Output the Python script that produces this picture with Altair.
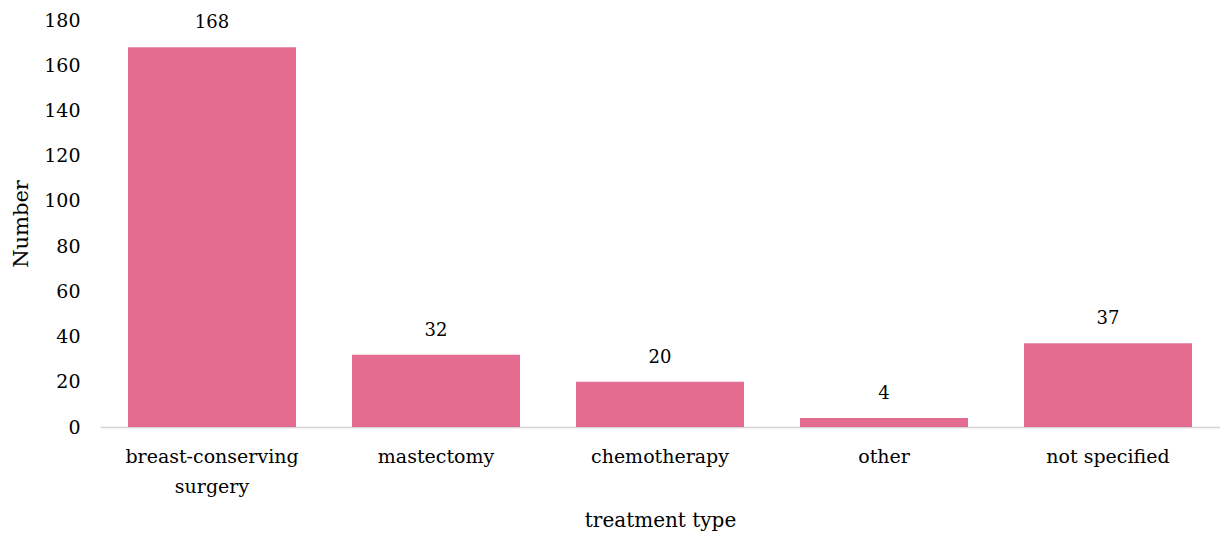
import altair as alt
import pandas as pd

# Treatment categories and patient counts
categories = ["breast-conserving surgery", "mastectomy", "chemotherapy", "other", "not specified"]
counts = [168, 32, 20, 4, 37]

df = pd.DataFrame({"treatment": categories, "count": counts})

FONT = "DejaVu Serif"
BAR_COLOR = "#E36C90"

x_enc = alt.X(
    "treatment:N",
    sort=categories,
    scale=alt.Scale(paddingInner=0.25, paddingOuter=0.125),
    axis=alt.Axis(
        title="treatment type",
        labelAngle=0,
        labelFont=FONT,
        labelFontSize=19,
        labelColor="#000000",
        labelPadding=20,
        labelLineHeight=30,
        labelBaseline="top",
        labelLimit=0,
        labelExpr="datum.label == 'breast-conserving surgery' ? ['breast-conserving', 'surgery'] : datum.label",
        ticks=False,
        domainColor="#d4d4d4",
        domainWidth=1.5,
        titleFont=FONT,
        titleFontSize=20,
        titleFontWeight="normal",
        titleColor="#000000",
        titleX=560,
        titleY=99,
        titleBaseline="alphabetic",
    ),
)

y_enc = alt.Y(
    "count:Q",
    scale=alt.Scale(domain=[0, 180], nice=False),
    axis=alt.Axis(
        title="Number",
        values=list(range(0, 181, 20)),
        grid=False,
        domain=False,
        ticks=False,
        labelFont=FONT,
        labelFontSize=19,
        labelColor="#000000",
        labelPadding=20,
        titleFont=FONT,
        titleFontSize=21,
        titleFontWeight="normal",
        titleColor="#000000",
        titleAngle=270,
        titleX=-79,
        titleY=203.5,
        titleAlign="center",
        titleBaseline="middle",
    ),
)

base = alt.Chart(df).encode(x=x_enc, y=y_enc)

bars = base.mark_bar(color=BAR_COLOR)

labels = base.mark_text(
    font=FONT,
    fontSize=18,
    color="#000000",
    baseline="alphabetic",
    dy=-19,
).encode(text="count:Q")

chart = (
    (bars + labels)
    .properties(
        width=1120,
        height=407,
        background="#ffffff",
        padding={"left": 100, "top": 20, "right": 0, "bottom": 108},
        autosize=alt.AutoSizeParams(type="none"),
    )
    .configure_view(stroke=None)
)

chart.save("out.html", embed_options={"renderer": "svg", "actions": False})
